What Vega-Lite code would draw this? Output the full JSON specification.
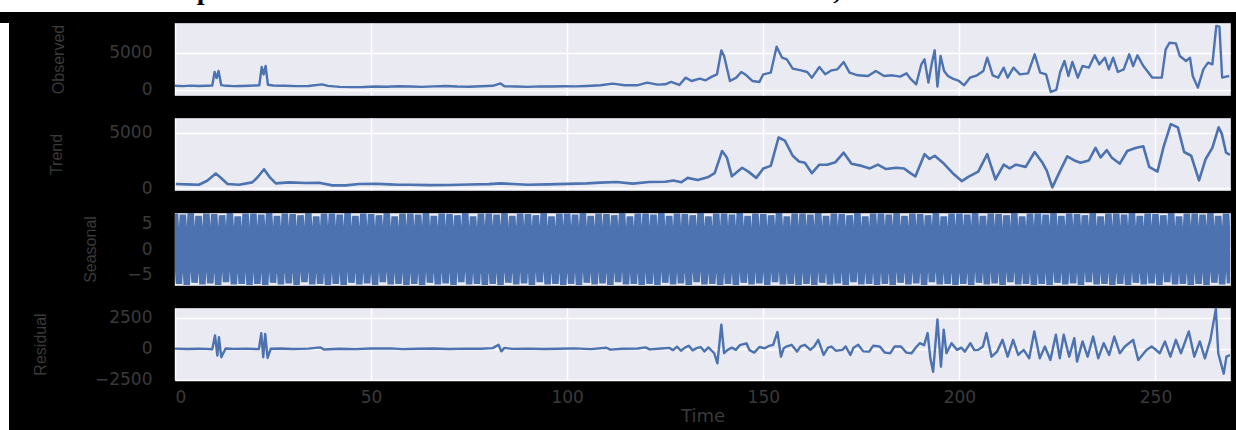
{
  "$schema": "https://vega.github.io/schema/vega-lite/v6.json",
  "background": "black",
  "padding": 0,
  "config": {
    "view": {"fill": "#EAEAF2", "stroke": "#c4c4cc", "strokeWidth": 1},
    "axis": {"gridColor": "white", "gridWidth": 1.4, "gridOpacity": 1, "domain": false, "ticks": false, "tickSize": 0, "labelFont": "DejaVu Sans", "labelFontSize": 17, "labelColor": "#3a3a3a", "titleColor": "#3a3a3a", "titleFont": "Liberation Sans", "titleFontSize": 16, "titleFontWeight": "normal"}
  },
  "datasets": {
    "obs": [
      {"t":0,"v":560},{"t":2,"v":520},{"t":4,"v":590},{"t":6,"v":540},{"t":8,"v":570},{"t":9.5,"v":600},{"t":10.1,"v":2450},{"t":10.6,"v":1600},{"t":11.1,"v":2560},{"t":11.8,"v":650},{"t":13,"v":560},{"t":15,"v":520},{"t":17,"v":540},{"t":19,"v":580},{"t":21.5,"v":640},{"t":22.1,"v":3100},{"t":22.6,"v":2100},{"t":23.1,"v":3240},{"t":23.7,"v":700},{"t":25,"v":600},{"t":28,"v":560},{"t":31,"v":520},{"t":34,"v":540},{"t":37.5,"v":760},{"t":39,"v":560},{"t":42,"v":420},{"t":45,"v":380},{"t":48,"v":400},{"t":51,"v":460},{"t":54,"v":440},{"t":57,"v":500},{"t":60,"v":460},{"t":63,"v":420},{"t":66,"v":480},{"t":69,"v":530},{"t":72,"v":460},{"t":75,"v":440},{"t":78,"v":500},{"t":81,"v":560},{"t":83,"v":880},{"t":84,"v":500},{"t":87,"v":460},{"t":90,"v":420},{"t":93,"v":480},{"t":96,"v":460},{"t":99,"v":500},{"t":102,"v":480},{"t":105,"v":540},
      {"t":108.5,"v":630},{"t":111.6,"v":855},{"t":114.7,"v":630},{"t":117.8,"v":630},{"t":120.4,"v":990},{"t":123,"v":720},{"t":125,"v":765},{"t":126.5,"v":1080},{"t":128.6,"v":675},{"t":130.2,"v":1665},{"t":131.7,"v":1215},{"t":133.8,"v":1530},{"t":135.3,"v":1305},{"t":136.9,"v":1800},{"t":138.2,"v":2115},{"t":139.3,"v":5355},{"t":140,"v":4590},{"t":141.5,"v":1215},{"t":143.1,"v":1665},{"t":144.4,"v":2430},{"t":145.7,"v":1980},{"t":147.2,"v":1215},{"t":149,"v":1080},{"t":150,"v":2115},{"t":151.9,"v":2340},{"t":153.4,"v":5850},{"t":154.8,"v":4365},{"t":156,"v":4140},{"t":157.5,"v":2880},{"t":159.6,"v":2655},{"t":161.2,"v":2430},{"t":162.4,"v":1665},{"t":164.3,"v":3105},{"t":165.8,"v":2115},{"t":167.4,"v":2655},{"t":168.9,"v":2790},{"t":170.5,"v":3780},{"t":172,"v":2340},{"t":174.1,"v":1980},{"t":176.7,"v":1890},{"t":178.7,"v":2565},{"t":180.8,"v":1890},{"t":182.9,"v":1980},{"t":184.9,"v":1800},{"t":186.5,"v":2250},{"t":187.5,"v":1530},{"t":189,"v":765},{"t":190.3,"v":3465},{"t":191.1,"v":4140},{"t":192.1,"v":990},{"t":193,"v":3690},{"t":193.7,"v":5355},{"t":194.4,"v":450},{"t":195.2,"v":4590},{"t":196.1,"v":2565},{"t":197.1,"v":1890},{"t":198.3,"v":1530},{"t":199.9,"v":1215},{"t":201.2,"v":630},{"t":202.7,"v":1665},{"t":204.5,"v":1980},{"t":206.1,"v":2565},{"t":207.1,"v":4365},{"t":208.5,"v":1980},{"t":209.9,"v":1665},{"t":211.3,"v":3015},{"t":212.3,"v":1665},{"t":213.8,"v":3015},{"t":215.4,"v":2115},{"t":217.5,"v":2250},{"t":219.2,"v":4815},{"t":220.6,"v":2340},{"t":222.1,"v":2115},{"t":223.3,"v":-270},{"t":224.7,"v":0},{"t":225.7,"v":2430},{"t":226.8,"v":3915},{"t":227.8,"v":1890},{"t":228.8,"v":3780},{"t":230.2,"v":1665},{"t":231.4,"v":3240},{"t":233,"v":3015},{"t":234.5,"v":4680},{"t":235.7,"v":3465},{"t":237.1,"v":4365},{"t":238.1,"v":2790},{"t":239.2,"v":4365},{"t":240.4,"v":2430},{"t":241.9,"v":2790},{"t":243.3,"v":4815},{"t":244.3,"v":3240},{"t":245.4,"v":4680},{"t":246.9,"v":3240},{"t":247.9,"v":2565},{"t":249.2,"v":1665},{"t":251.6,"v":1665},{"t":252.6,"v":5490},{"t":253.6,"v":6390},{"t":255.2,"v":6300},{"t":256.2,"v":4590},{"t":257.8,"v":3915},{"t":258.8,"v":4365},{"t":259.5,"v":1890},{"t":260.8,"v":315},{"t":262.2,"v":2790},{"t":263.4,"v":3690},{"t":264.5,"v":3465},{"t":265.5,"v":8640},{"t":266.3,"v":8550},{"t":267,"v":1665},{"t":268,"v":1800},{"t":268.8,"v":1890}
    ],
    "trend": [
      {"t":0.2,"v":360},{"t":3,"v":330},{"t":6.1,"v":300},{"t":8.2,"v":660},{"t":10.4,"v":1320},{"t":11.6,"v":960},{"t":13.4,"v":360},{"t":16.3,"v":300},{"t":19.7,"v":510},{"t":21,"v":960},{"t":22.7,"v":1710},{"t":24.2,"v":960},{"t":25.7,"v":420},{"t":29.1,"v":510},{"t":33.3,"v":450},{"t":36.7,"v":480},{"t":40.1,"v":240},{"t":43.5,"v":240},{"t":46.9,"v":360},{"t":51.2,"v":390},{"t":54.6,"v":330},{"t":57.1,"v":300},{"t":60,"v":300},{"t":65,"v":260},{"t":70,"v":280},{"t":75,"v":320},{"t":80,"v":350},{"t":83,"v":420},{"t":86,"v":360},{"t":90,"v":300},{"t":95,"v":330},{"t":100,"v":380},{"t":105,"v":420},
      {"t":108.5,"v":490},{"t":112.6,"v":545},{"t":116.7,"v":400},{"t":120.9,"v":545},{"t":125,"v":570},{"t":127.1,"v":690},{"t":129.1,"v":520},{"t":130.7,"v":920},{"t":133.3,"v":720},{"t":135.8,"v":975},{"t":137.6,"v":1350},{"t":139.5,"v":3360},{"t":140.7,"v":2780},{"t":142,"v":1060},{"t":144.6,"v":1840},{"t":146.2,"v":1490},{"t":148.2,"v":920},{"t":150,"v":1780},{"t":151.9,"v":2010},{"t":153.9,"v":4590},{"t":155.5,"v":4300},{"t":157.5,"v":2930},{"t":159.1,"v":2410},{"t":160.6,"v":2300},{"t":162.4,"v":1350},{"t":164.3,"v":2120},{"t":166.3,"v":2120},{"t":168.4,"v":2350},{"t":170.5,"v":3210},{"t":172.5,"v":2210},{"t":175.1,"v":2010},{"t":177.2,"v":1780},{"t":179.2,"v":2120},{"t":181.3,"v":1720},{"t":183.9,"v":1840},{"t":185.9,"v":1780},{"t":187.5,"v":1350},{"t":188.8,"v":1060},{"t":191.1,"v":3070},{"t":192.4,"v":2640},{"t":193.7,"v":2930},{"t":195.8,"v":2300},{"t":198.3,"v":1350},{"t":200.6,"v":630},{"t":202.5,"v":1060},{"t":204.8,"v":1490},{"t":207.1,"v":3070},{"t":209.2,"v":775},{"t":211.3,"v":2120},{"t":212.8,"v":1780},{"t":214.4,"v":2120},{"t":216.9,"v":1920},{"t":219.2,"v":3270},{"t":221.1,"v":2350},{"t":222.3,"v":1550},{"t":223.7,"v":60},{"t":225.4,"v":1350},{"t":227.5,"v":2870},{"t":229.3,"v":2500},{"t":230.9,"v":2300},{"t":233,"v":2500},{"t":234.7,"v":3640},{"t":236,"v":2780},{"t":237.6,"v":3440},{"t":238.8,"v":2780},{"t":240.9,"v":2210},{"t":242.8,"v":3360},{"t":244.9,"v":3640},{"t":246.9,"v":3790},{"t":248.4,"v":1920},{"t":250.5,"v":1490},{"t":252.1,"v":3790},{"t":253.9,"v":5800},{"t":255.7,"v":5510},{"t":257.3,"v":3270},{"t":259.1,"v":2930},{"t":261.1,"v":690},{"t":262.8,"v":2640},{"t":264.5,"v":3640},{"t":266.1,"v":5510},{"t":266.9,"v":4940},{"t":268,"v":3210},{"t":269,"v":3000}
    ],
    "resid": [
      {"t":0,"v":20},{"t":3,"v":-10},{"t":6,"v":15},{"t":8,"v":0},{"t":9.5,"v":-30},{"t":10.2,"v":1080},{"t":10.8,"v":-540},{"t":11.2,"v":940},{"t":11.8,"v":-670},{"t":12.9,"v":30},{"t":15,"v":0},{"t":18,"v":20},{"t":21.4,"v":-20},{"t":22,"v":1260},{"t":22.5,"v":-670},{"t":23,"v":1210},{"t":23.6,"v":-730},{"t":24.4,"v":10},{"t":27,"v":30},{"t":30,"v":-10},{"t":34,"v":20},{"t":37,"v":120},{"t":38,"v":-50},{"t":42,"v":10},{"t":46,"v":-20},{"t":50,"v":30},{"t":55,"v":40},{"t":58,"v":-20},{"t":62,"v":10},{"t":66,"v":30},{"t":70,"v":-10},{"t":74,"v":20},{"t":78,"v":10},{"t":81,"v":60},{"t":82.5,"v":330},{"t":83.2,"v":-200},{"t":84,"v":80},{"t":86,"v":0},{"t":90,"v":20},{"t":94,"v":-10},{"t":98,"v":10},{"t":102,"v":40},{"t":106,"v":-20},{"t":110,"v":90},{"t":111,"v":-60},{"t":114,"v":10},{"t":118,"v":30},{"t":120,"v":120},{"t":121,"v":-40},{"t":124,"v":30},{"t":126,"v":80},{"t":127,"v":-100},{"t":128,"v":180},{"t":129,"v":-150},{"t":130,"v":100},{"t":131,"v":250},{"t":132,"v":-120},{"t":133,"v":60},{"t":134,"v":150},{"t":135,"v":-200},{"t":136,"v":120},{"t":137.5,"v":-350},{"t":138.3,"v":-1170},{"t":139.3,"v":1960},{"t":140,"v":-350},{"t":140.9,"v":-80},{"t":142,"v":100},{"t":143,"v":-80},{"t":144,"v":300},{"t":145.7,"v":450},{"t":146.5,"v":-100},{"t":147.7,"v":-300},{"t":149,"v":150},{"t":150.4,"v":50},{"t":151.5,"v":250},{"t":152.5,"v":330},{"t":153.6,"v":1360},{"t":154.5,"v":-630},{"t":155.2,"v":50},{"t":155.9,"v":190},{"t":157.2,"v":330},{"t":158.6,"v":-220},{"t":159.5,"v":200},{"t":160.6,"v":330},{"t":162,"v":-80},{"t":163,"v":200},{"t":164,"v":730},{"t":165.4,"v":-490},{"t":166.5,"v":100},{"t":167.4,"v":190},{"t":168.5,"v":-150},{"t":170.2,"v":-80},{"t":171,"v":200},{"t":172.2,"v":-490},{"t":173,"v":100},{"t":174.2,"v":330},{"t":175.5,"v":-200},{"t":177,"v":-220},{"t":178,"v":250},{"t":179.7,"v":190},{"t":181,"v":-300},{"t":182.4,"v":-350},{"t":183.5,"v":200},{"t":185.1,"v":190},{"t":186.5,"v":-300},{"t":187.8,"v":-350},{"t":189,"v":150},{"t":189.9,"v":460},{"t":191,"v":300},{"t":191.9,"v":1280},{"t":192.6,"v":-760},{"t":193.3,"v":-1850},{"t":194.4,"v":2370},{"t":195.3,"v":-1440},{"t":196,"v":1550},{"t":196.7,"v":-350},{"t":198,"v":460},{"t":199.4,"v":-80},{"t":200.5,"v":100},{"t":201.4,"v":-220},{"t":202.8,"v":460},{"t":203.8,"v":-100},{"t":204.8,"v":-80},{"t":206,"v":200},{"t":206.9,"v":1280},{"t":208.2,"v":-630},{"t":209.6,"v":-220},{"t":211,"v":730},{"t":212.3,"v":-630},{"t":213.7,"v":730},{"t":215,"v":-490},{"t":216.4,"v":-80},{"t":217.8,"v":-760},{"t":219.1,"v":1410},{"t":220.5,"v":-760},{"t":221.8,"v":190},{"t":223.2,"v":-900},{"t":224.6,"v":1140},{"t":225.6,"v":-760},{"t":226.6,"v":1140},{"t":228,"v":-630},{"t":229.3,"v":870},{"t":230,"v":-1030},{"t":231.4,"v":600},{"t":232.7,"v":-630},{"t":234.1,"v":1000},{"t":235.4,"v":-760},{"t":236.8,"v":460},{"t":238.2,"v":-490},{"t":239.5,"v":1000},{"t":240.9,"v":-350},{"t":242.2,"v":190},{"t":244.3,"v":730},{"t":245.6,"v":-900},{"t":247.7,"v":-80},{"t":249,"v":190},{"t":250,"v":-50},{"t":251.1,"v":-350},{"t":252.4,"v":600},{"t":253.8,"v":-630},{"t":255.2,"v":730},{"t":256.5,"v":-350},{"t":258.5,"v":1410},{"t":259.9,"v":-630},{"t":261.3,"v":600},{"t":262.6,"v":-760},{"t":264,"v":730},{"t":265.4,"v":3250},{"t":266,"v":-350},{"t":267.4,"v":-2000},{"t":268.1,"v":-620},{"t":269,"v":-500}
    ],
    "seas": [
      {"t":0,"v":6.9},{"t":1,"v":-6.7},{"t":2,"v":6.7},{"t":3,"v":-6.9},{"t":4,"v":7.0},{"t":5,"v":-6.5},{"t":6,"v":6.5},{"t":7,"v":-6.8},{"t":8,"v":6.9},{"t":9,"v":-6.6},{"t":10,"v":6.8},{"t":11,"v":-6.9},{"t":12,"v":6.6},{"t":13,"v":-6.4},{"t":14,"v":7.0},{"t":15,"v":-6.8},{"t":16,"v":6.4},{"t":17,"v":-6.7},{"t":18,"v":6.9},{"t":19,"v":-6.9},
      {"t":20,"v":6.9},{"t":21,"v":-6.7},{"t":22,"v":6.7},{"t":23,"v":-6.9},{"t":24,"v":7.0},{"t":25,"v":-6.5},{"t":26,"v":6.5},{"t":27,"v":-6.8},{"t":28,"v":6.9},{"t":29,"v":-6.6},{"t":30,"v":6.8},{"t":31,"v":-6.9},{"t":32,"v":6.6},{"t":33,"v":-6.4},{"t":34,"v":7.0},{"t":35,"v":-6.8},{"t":36,"v":6.4},{"t":37,"v":-6.7},{"t":38,"v":6.9},{"t":39,"v":-6.9},
      {"t":40,"v":6.9},{"t":41,"v":-6.7},{"t":42,"v":6.7},{"t":43,"v":-6.9},{"t":44,"v":7.0},{"t":45,"v":-6.5},{"t":46,"v":6.5},{"t":47,"v":-6.8},{"t":48,"v":6.9},{"t":49,"v":-6.6},{"t":50,"v":6.8},{"t":51,"v":-6.9},{"t":52,"v":6.6},{"t":53,"v":-6.4},{"t":54,"v":7.0},{"t":55,"v":-6.8},{"t":56,"v":6.4},{"t":57,"v":-6.7},{"t":58,"v":6.9},{"t":59,"v":-6.9},
      {"t":60,"v":6.9},{"t":61,"v":-6.7},{"t":62,"v":6.7},{"t":63,"v":-6.9},{"t":64,"v":7.0},{"t":65,"v":-6.5},{"t":66,"v":6.5},{"t":67,"v":-6.8},{"t":68,"v":6.9},{"t":69,"v":-6.6},{"t":70,"v":6.8},{"t":71,"v":-6.9},{"t":72,"v":6.6},{"t":73,"v":-6.4},{"t":74,"v":7.0},{"t":75,"v":-6.8},{"t":76,"v":6.4},{"t":77,"v":-6.7},{"t":78,"v":6.9},{"t":79,"v":-6.9},
      {"t":80,"v":6.9},{"t":81,"v":-6.7},{"t":82,"v":6.7},{"t":83,"v":-6.9},{"t":84,"v":7.0},{"t":85,"v":-6.5},{"t":86,"v":6.5},{"t":87,"v":-6.8},{"t":88,"v":6.9},{"t":89,"v":-6.6},{"t":90,"v":6.8},{"t":91,"v":-6.9},{"t":92,"v":6.6},{"t":93,"v":-6.4},{"t":94,"v":7.0},{"t":95,"v":-6.8},{"t":96,"v":6.4},{"t":97,"v":-6.7},{"t":98,"v":6.9},{"t":99,"v":-6.9},
      {"t":100,"v":6.9},{"t":101,"v":-6.7},{"t":102,"v":6.7},{"t":103,"v":-6.9},{"t":104,"v":7.0},{"t":105,"v":-6.5},{"t":106,"v":6.5},{"t":107,"v":-6.8},{"t":108,"v":6.9},{"t":109,"v":-6.6},{"t":110,"v":6.8},{"t":111,"v":-6.9},{"t":112,"v":6.6},{"t":113,"v":-6.4},{"t":114,"v":7.0},{"t":115,"v":-6.8},{"t":116,"v":6.4},{"t":117,"v":-6.7},{"t":118,"v":6.9},{"t":119,"v":-6.9},
      {"t":120,"v":6.9},{"t":121,"v":-6.7},{"t":122,"v":6.7},{"t":123,"v":-6.9},{"t":124,"v":7.0},{"t":125,"v":-6.5},{"t":126,"v":6.5},{"t":127,"v":-6.8},{"t":128,"v":6.9},{"t":129,"v":-6.6},{"t":130,"v":6.8},{"t":131,"v":-6.9},{"t":132,"v":6.6},{"t":133,"v":-6.4},{"t":134,"v":7.0},{"t":135,"v":-6.8},{"t":136,"v":6.4},{"t":137,"v":-6.7},{"t":138,"v":6.9},{"t":139,"v":-6.9},
      {"t":140,"v":6.9},{"t":141,"v":-6.7},{"t":142,"v":6.7},{"t":143,"v":-6.9},{"t":144,"v":7.0},{"t":145,"v":-6.5},{"t":146,"v":6.5},{"t":147,"v":-6.8},{"t":148,"v":6.9},{"t":149,"v":-6.6},{"t":150,"v":6.8},{"t":151,"v":-6.9},{"t":152,"v":6.6},{"t":153,"v":-6.4},{"t":154,"v":7.0},{"t":155,"v":-6.8},{"t":156,"v":6.4},{"t":157,"v":-6.7},{"t":158,"v":6.9},{"t":159,"v":-6.9},
      {"t":160,"v":6.9},{"t":161,"v":-6.7},{"t":162,"v":6.7},{"t":163,"v":-6.9},{"t":164,"v":7.0},{"t":165,"v":-6.5},{"t":166,"v":6.5},{"t":167,"v":-6.8},{"t":168,"v":6.9},{"t":169,"v":-6.6},{"t":170,"v":6.8},{"t":171,"v":-6.9},{"t":172,"v":6.6},{"t":173,"v":-6.4},{"t":174,"v":7.0},{"t":175,"v":-6.8},{"t":176,"v":6.4},{"t":177,"v":-6.7},{"t":178,"v":6.9},{"t":179,"v":-6.9},
      {"t":180,"v":6.9},{"t":181,"v":-6.7},{"t":182,"v":6.7},{"t":183,"v":-6.9},{"t":184,"v":7.0},{"t":185,"v":-6.5},{"t":186,"v":6.5},{"t":187,"v":-6.8},{"t":188,"v":6.9},{"t":189,"v":-6.6},{"t":190,"v":6.8},{"t":191,"v":-6.9},{"t":192,"v":6.6},{"t":193,"v":-6.4},{"t":194,"v":7.0},{"t":195,"v":-6.8},{"t":196,"v":6.4},{"t":197,"v":-6.7},{"t":198,"v":6.9},{"t":199,"v":-6.9},
      {"t":200,"v":6.9},{"t":201,"v":-6.7},{"t":202,"v":6.7},{"t":203,"v":-6.9},{"t":204,"v":7.0},{"t":205,"v":-6.5},{"t":206,"v":6.5},{"t":207,"v":-6.8},{"t":208,"v":6.9},{"t":209,"v":-6.6},{"t":210,"v":6.8},{"t":211,"v":-6.9},{"t":212,"v":6.6},{"t":213,"v":-6.4},{"t":214,"v":7.0},{"t":215,"v":-6.8},{"t":216,"v":6.4},{"t":217,"v":-6.7},{"t":218,"v":6.9},{"t":219,"v":-6.9},
      {"t":220,"v":6.9},{"t":221,"v":-6.7},{"t":222,"v":6.7},{"t":223,"v":-6.9},{"t":224,"v":7.0},{"t":225,"v":-6.5},{"t":226,"v":6.5},{"t":227,"v":-6.8},{"t":228,"v":6.9},{"t":229,"v":-6.6},{"t":230,"v":6.8},{"t":231,"v":-6.9},{"t":232,"v":6.6},{"t":233,"v":-6.4},{"t":234,"v":7.0},{"t":235,"v":-6.8},{"t":236,"v":6.4},{"t":237,"v":-6.7},{"t":238,"v":6.9},{"t":239,"v":-6.9},
      {"t":240,"v":6.9},{"t":241,"v":-6.7},{"t":242,"v":6.7},{"t":243,"v":-6.9},{"t":244,"v":7.0},{"t":245,"v":-6.5},{"t":246,"v":6.5},{"t":247,"v":-6.8},{"t":248,"v":6.9},{"t":249,"v":-6.6},{"t":250,"v":6.8},{"t":251,"v":-6.9},{"t":252,"v":6.6},{"t":253,"v":-6.4},{"t":254,"v":7.0},{"t":255,"v":-6.8},{"t":256,"v":6.4},{"t":257,"v":-6.7},{"t":258,"v":6.9},{"t":259,"v":-6.9},
      {"t":260,"v":6.9},{"t":261,"v":-6.7},{"t":262,"v":6.7},{"t":263,"v":-6.9},{"t":264,"v":7.0},{"t":265,"v":-6.5},{"t":266,"v":6.5},{"t":267,"v":-6.8},{"t":268,"v":6.9},{"t":269,"v":-6.6}
    ]
  },
  "spacing": 10,
  "vconcat": [
    {
      "width": 1236,
      "height": 12,
      "view": {"fill": "white", "stroke": null},
      "data": {"values": [{"label": "Decomposition of the time series data which shows the trend, seasonal and residual data"}]},
      "mark": {"type": "text", "clip": true, "font": "Liberation Serif", "fontWeight": "bold", "fontSize": 28, "color": "black", "baseline": "alphabetic", "align": "center", "dy": -7, "dx": 20},
      "encoding": {"text": {"field": "label", "type": "nominal"}}
    },
    {
      "spacing": 22,
      "hconcat": [
        {
          "width": 9,
          "height": 408,
          "view": {"fill": "white", "stroke": null},
          "data": {"values": [{"k": 1}]},
          "mark": {"type": "rect", "color": "white"},
          "encoding": {}
        },
        {
          "spacing": 23,
          "bounds": "flush",
          "vconcat": [
            {
              "width": 1055, "height": 72,
              "data": {"name": "obs"},
              "mark": {"type": "line", "color": "#4C72B0", "strokeWidth": 2.4, "strokeJoin": "round", "clip": true},
              "encoding": {
                "x": {"field": "t", "type": "quantitative", "scale": {"domain": [0, 269], "nice": false, "zero": false}, "axis": {"values": [0, 50, 100, 150, 200, 250], "labels": false, "title": null}},
                "y": {"field": "v", "type": "quantitative", "scale": {"domain": [-680, 9050], "nice": false, "zero": false}, "axis": {"values": [0, 5000], "format": "d", "labelPadding": 23, "title": "Observed", "titleX": -117, "titleBaseline": "middle"}}
              }
            },
            {
              "width": 1055, "height": 72,
              "data": {"name": "trend"},
              "mark": {"type": "line", "color": "#4C72B0", "strokeWidth": 2.6, "strokeJoin": "round", "clip": true},
              "encoding": {
                "x": {"field": "t", "type": "quantitative", "scale": {"domain": [0, 269], "nice": false, "zero": false}, "axis": {"values": [0, 50, 100, 150, 200, 250], "labels": false, "title": null}},
                "y": {"field": "v", "type": "quantitative", "scale": {"domain": [-180, 6360], "nice": false, "zero": false}, "axis": {"values": [0, 5000], "format": "d", "labelPadding": 23, "title": "Trend", "titleX": -119, "titleBaseline": "middle"}}
              }
            },
            {
              "width": 1055, "height": 72,
              "data": {"name": "seas"},
              "mark": {"type": "line", "color": "#4C72B0", "strokeWidth": 6.5, "strokeJoin": "bevel", "clip": true},
              "encoding": {
                "x": {"field": "t", "type": "quantitative", "scale": {"domain": [0, 269], "nice": false, "zero": false}, "axis": {"values": [0, 50, 100, 150, 200, 250], "labels": false, "title": null}},
                "y": {"field": "v", "type": "quantitative", "scale": {"domain": [-6.95, 7.05], "nice": false, "zero": false}, "axis": {"values": [-5, 0, 5], "format": "d", "labelPadding": 23, "title": "Seasonal", "titleX": -85, "titleBaseline": "middle"}}
              }
            },
            {
              "width": 1055, "height": 72,
              "data": {"name": "resid"},
              "mark": {"type": "line", "color": "#4C72B0", "strokeWidth": 2.4, "strokeJoin": "round", "clip": true},
              "encoding": {
                "x": {"field": "t", "type": "quantitative", "scale": {"domain": [0, 269], "nice": false, "zero": false}, "axis": {"values": [0, 50, 100, 150, 200, 250], "format": "d", "labelPadding": 9, "title": "Time", "titleFont": "DejaVu Sans", "titleFontSize": 18, "titlePadding": 2}},
                "y": {"field": "v", "type": "quantitative", "scale": {"domain": [-2510, 3300], "nice": false, "zero": false}, "axis": {"values": [-2500, 0, 2500], "format": "d", "labelPadding": 23, "title": "Residual", "titleX": -135, "titleBaseline": "middle"}}
              }
            }
          ]
        }
      ]
    }
  ]
}
